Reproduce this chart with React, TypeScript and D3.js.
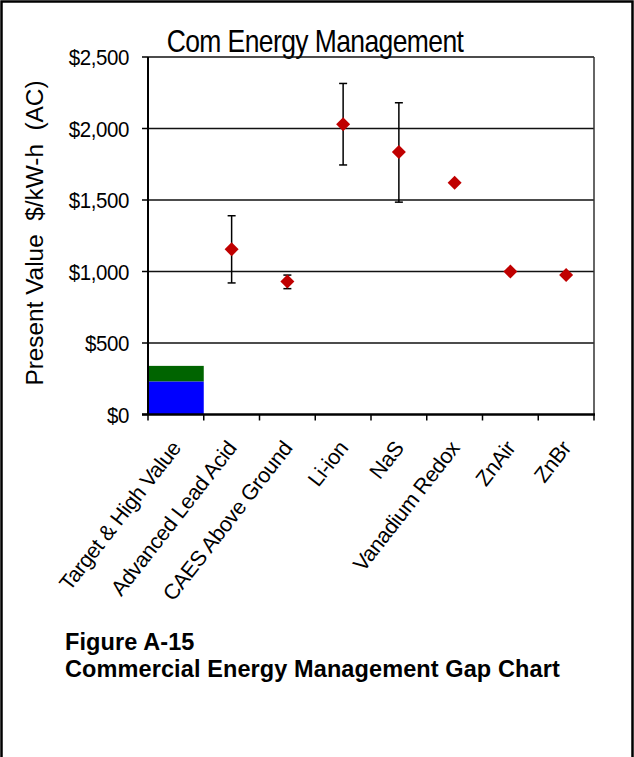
import React from "react";
import * as d3 from "d3";

const categories = [
  "Target & High Value",
  "Advanced Lead Acid",
  "CAES Above Ground",
  "Li-ion",
  "NaS",
  "Vanadium Redox",
  "ZnAir",
  "ZnBr",
];
// stacked bar for the first category
const targetValue = [230];
const highValue = [340];
// point estimates with ranges
const pointValues = [null, 1155, 930, 2030, 1835, 1620, 1000, 975];
const lowValues = [null, 920, 880, 1745, 1485, null, null, null];
const highValues = [null, 1390, 975, 2315, 2180, null, null, null];
const yTicks = [0, 500, 1000, 1500, 2000, 2500];

const W = 634;
const H = 757;
const plot = { left: 148, right: 594, top: 57, bottom: 414.5 };

export default function App() {
  const x = d3
    .scaleBand<string>()
    .domain(categories)
    .range([plot.left, plot.right])
    .padding(0);
  const y = d3.scaleLinear().domain([0, 2500]).range([plot.bottom, plot.top]);
  const fmt = (v: number) => "$" + d3.format(",")(v);
  const font = "Arial, 'Liberation Sans', sans-serif";
  const bw = x.bandwidth();
  const boundaries = categories.map((c) => x(c) as number).concat([plot.right]);

  return (
    <svg
      width={W}
      height={H}
      style={{ position: "absolute", left: 0, top: 0, background: "#fff" }}
      fontFamily={font}
    >
      <rect x={0} y={0} width={W} height={H} fill="#fff" />
      {/* outer frame */}
      <path d={`M1.5,${H} V1.5 H632.5 V${H}`} fill="none" stroke="#000" strokeWidth={2.5} />

      {/* title */}
      <text
        transform={`translate(315,52) scale(1,1.15)`}
        textAnchor="middle"
        fontSize={26.5}
        letterSpacing={-0.6}
        fill="#000"
      >
        Com Energy Management
      </text>

      {/* gridlines */}
      {yTicks.map((t) => (
        <line
          key={"g" + t}
          x1={plot.left}
          x2={plot.right}
          y1={y(t)}
          y2={y(t)}
          stroke="#111"
          strokeWidth={t === 0 ? 0 : 1.5}
        />
      ))}

      {/* stacked bar */}
      <rect
        x={x(categories[0])}
        width={bw}
        y={y(highValue[0])}
        height={y(targetValue[0]) - y(highValue[0])}
        fill="#006400"
      />
      <rect
        x={x(categories[0])}
        width={bw}
        y={y(targetValue[0])}
        height={y(0) - y(targetValue[0])}
        fill="#0000FF"
      />

      {/* right border */}
      <line x1={plot.right} x2={plot.right} y1={plot.top} y2={plot.bottom} stroke="#333" strokeWidth={1.5} />
      {/* y axis */}
      <line x1={plot.left} x2={plot.left} y1={plot.top} y2={plot.bottom} stroke="#000" strokeWidth={2} />
      {yTicks.map((t) => (
        <g key={"t" + t}>
          <line x1={plot.left - 6} x2={plot.left} y1={y(t)} y2={y(t)} stroke="#000" strokeWidth={1.5} />
          <text
            transform={`translate(${plot.left - 19},${y(t) + 8}) scale(1,1.12)`}
            textAnchor="end"
            fontSize={20.5}
            letterSpacing={-0.4}
            fill="#000"
          >
            {fmt(t)}
          </text>
        </g>
      ))}
      {/* x axis */}
      <line x1={plot.left - 6} x2={plot.right + 1} y1={y(0)} y2={y(0)} stroke="#000" strokeWidth={2.5} />
      {boundaries.map((b, i) => (
        <line key={"xt" + i} x1={b} x2={b} y1={y(0)} y2={y(0) + 6} stroke="#000" strokeWidth={1.5} />
      ))}

      {/* error bars */}
      {categories.map((c, i) => {
        const lo = lowValues[i];
        const hi = highValues[i];
        if (lo == null || hi == null) return null;
        const cx = (x(c) as number) + bw / 2;
        return (
          <g key={"e" + i} stroke="#000" strokeWidth={1.5}>
            <line x1={cx} x2={cx} y1={y(lo)} y2={y(hi)} />
            <line x1={cx - 4} x2={cx + 4} y1={y(lo)} y2={y(lo)} />
            <line x1={cx - 4} x2={cx + 4} y1={y(hi)} y2={y(hi)} />
          </g>
        );
      })}

      {/* markers */}
      {categories.map((c, i) => {
        const v = pointValues[i];
        if (v == null) return null;
        const cx = (x(c) as number) + bw / 2;
        const cy = y(v);
        const r = 7;
        return (
          <path
            key={"m" + i}
            d={`M${cx},${cy - r} L${cx + r},${cy} L${cx},${cy + r} L${cx - r},${cy} Z`}
            fill="#C00000"
          />
        );
      })}

      {/* x labels */}
      {categories.map((c, i) => {
        const cx = (x(c) as number) + bw / 2;
        return (
          <text
            key={"xl" + i}
            transform={`translate(${cx + 6},${y(0) + 34}) rotate(-52)`}
            textAnchor="end"
            fontSize={21.5}
            letterSpacing={-0.4}
            fill="#000"
          >
            {c}
          </text>
        );
      })}

      {/* y axis title */}
      <text
        transform={`translate(43,233) rotate(-90) scale(1.06,1)`}
        textAnchor="middle"
        fontSize={23}
        fill="#000"
        style={{ whiteSpace: "pre" }}
      >
        {"Present Value  $/kW-h  (AC)"}
      </text>

      {/* caption */}
      <text x={65} y={650} fontSize={23.5} letterSpacing={0.1} fontWeight="bold" fill="#000">
        Figure A-15
      </text>
      <text x={65} y={677} fontSize={23.5} letterSpacing={0.1} fontWeight="bold" fill="#000">
        Commercial Energy Management Gap Chart
      </text>
    </svg>
  );
}
